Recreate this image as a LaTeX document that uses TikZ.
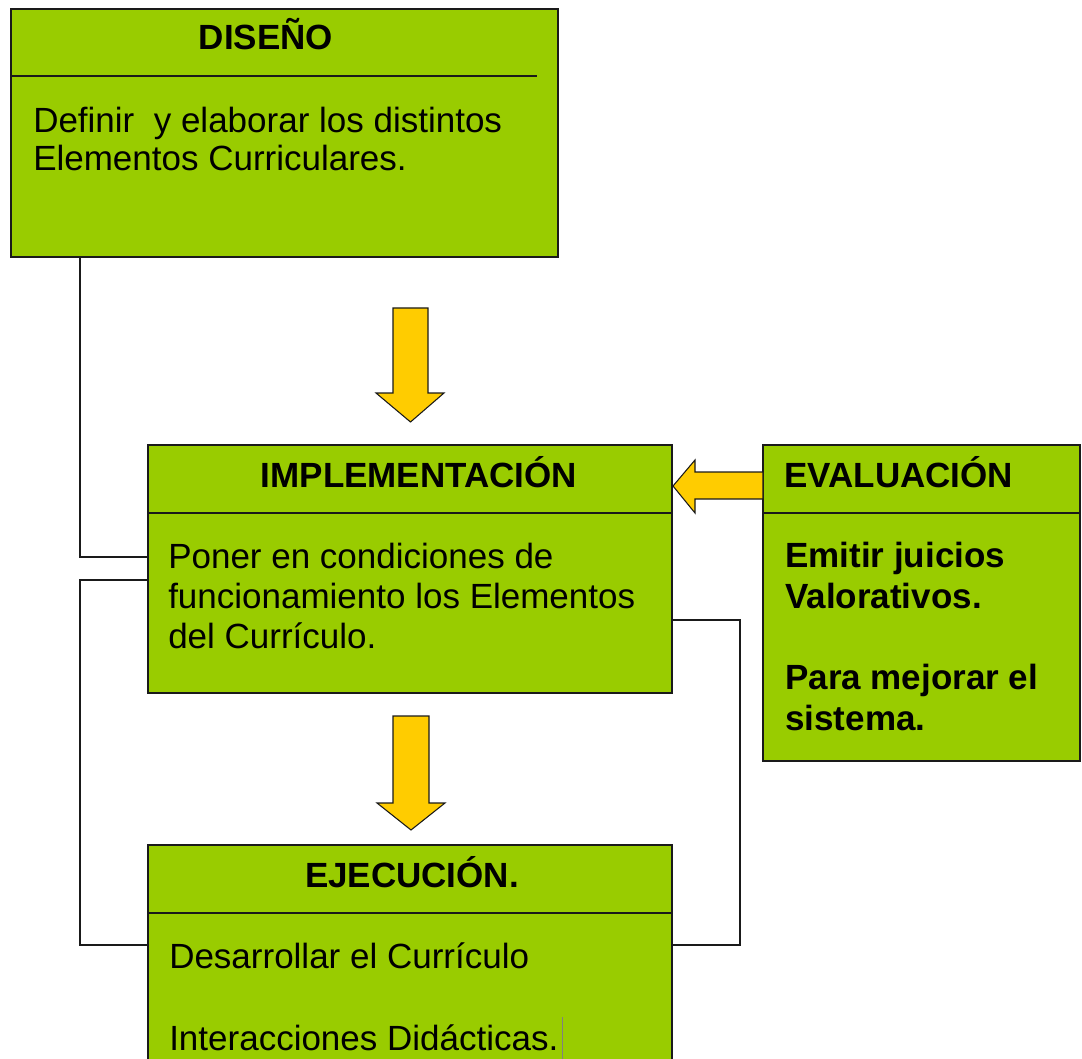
\documentclass[tikz,border=0pt]{standalone}
\usepackage{fontspec}
\setmainfont{Liberation Sans}
\usepackage{xcolor}
\definecolor{cajaVerde}{HTML}{99CC00}
\definecolor{flechaAmarilla}{HTML}{FFCC00}
\definecolor{bordeOscuro}{HTML}{1A1A1A}
\usepackage{tikz}
\usetikzlibrary{positioning,fit,calc}
\tikzset{
    caja/.style={
        draw=bordeOscuro,
        fill=cajaVerde,
        rectangle,
        line width=1.2pt,
        inner sep=0pt
    },
    titulo/.style={
        font=\fontsize{26.25}{30}\selectfont\bfseries,
        inner sep=0pt,
        anchor=base
    },
    texto/.style={
        font=\fontsize{26.25}{30}\selectfont,
        align=left,
        inner sep=0pt,
        anchor=base west
    },
    bloque/.style={
        draw=bordeOscuro,
        fill=flechaAmarilla,
        line width=0.8pt,
        line join=miter
    },
    linea/.style={
        draw=bordeOscuro,
        line width=0.9pt
    },
    separador/.style={
        draw=bordeOscuro,
        line width=1.2pt
    }
}

\begin{document}
\begin{tikzpicture}[x=0.75pt, y=-0.75pt]
    \useasboundingbox (0,0) rectangle (1082,1059);

    % Boxes
    \node[caja, fit={(11,9) (558,257)}] (disenio) {};
    \node[caja, fit={(148,445) (672,693)}] (implem) {};
    \node[caja, fit={(763,445) (1080,761)}] (evalua) {};
    \node[caja, fit={(148,845) (672,1110)}] (ejec) {};

    % Header lines
    \draw[separador] (disenio.west |- 0,76) -- (537,76);
    \draw[separador] (implem.west |- 0,513) -- (implem.east |- 0,513);
    \draw[separador] (evalua.west |- 0,513) -- (evalua.east |- 0,513);
    \draw[separador] (ejec.west |- 0,913) -- (ejec.east |- 0,913);

    % Titles
    \node[titulo] (tDisenio) at (266,50) {DISEÑO};
    \node[titulo] (tImplem) at (419,487) {IMPLEMENTACIÓN};
    \node[titulo, anchor=base west] (tEvalua) at (784,487) {EVALUACIÓN};
    \node[titulo] (tEjec) at (412,887) {EJECUCIÓN.};

    % Contents (base = last line)
    \node[texto, font=\fontsize{26.25}{28.5}\selectfont] (cDisenio) at (33,171)
        {Definir\ \ y elaborar los distintos\\Elementos Curriculares.};
    \node[texto] (cImplem) at (168,648)
        {Poner en condiciones de\\funcionamiento los Elementos\\del Currículo.};
    \node[texto, font=\fontsize{26.25}{30.4}\selectfont\bfseries] (cEvalua) at (785,730)
        {Emitir juicios\\Valorativos.\\[30.4pt]Para mejorar el\\sistema.};
    \node[texto] (cEjec) at (169,1050)
        {Desarrollar el Currículo\\[31.5pt]Interacciones Didácticas.};
    \draw[gray, line width=0.4pt] (562,1017) -- (562,1059);

    % Block arrows
    \draw[bloque] (393,308) -- (428,308) -- (428,393) -- (444,393) -- (410.5,422)
        -- (376,393) -- (393,393) -- cycle;
    \draw[bloque] (393,716) -- (429,716) -- (429,803) -- (445,803) -- (411,830)
        -- (377,803) -- (393,803) -- cycle;
    \draw[bloque] (763,472) -- (695,472) -- (695,460) -- (673,486) -- (695,513)
        -- (695,499) -- (763,499) -- cycle;

    % Connectors
    \draw[linea] (disenio.south -| 80,0) |- (implem.west |- 0,557);
    \draw[linea] (implem.west |- 0,580) -| (80,945) -- (ejec.west |- 0,945);
    \draw[linea] (implem.east |- 0,620) -| (740,945) -- (ejec.east |- 0,945);
\end{tikzpicture}
\end{document}
